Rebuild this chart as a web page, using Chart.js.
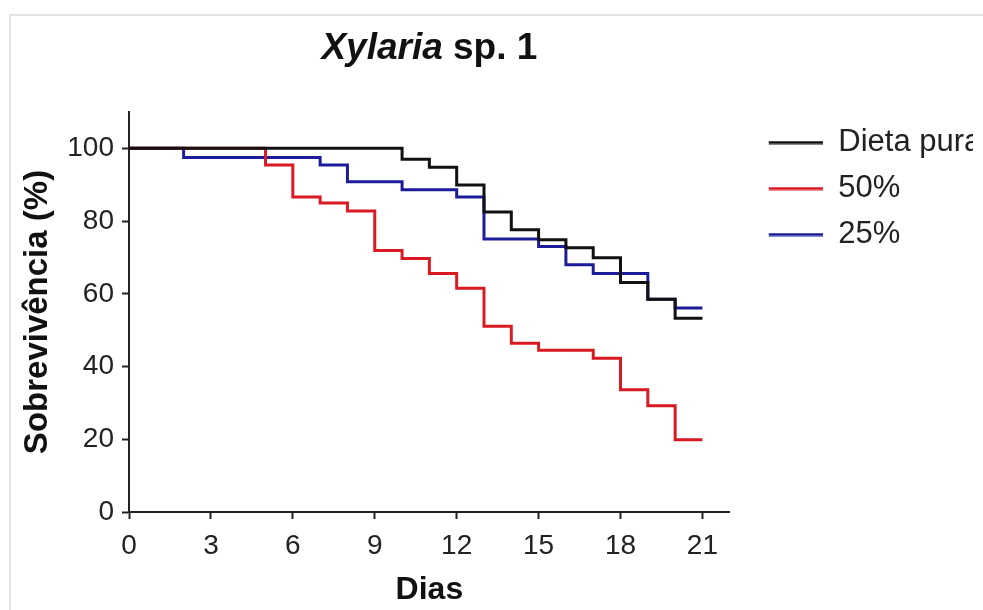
<!DOCTYPE html>
<html><head><meta charset="utf-8">
<script src="https://cdn.jsdelivr.net/npm/chart.js@4.4.1/dist/chart.umd.min.js"></script>
<style>
html,body{margin:0;padding:0;background:#fff;}
#wrap{position:relative;width:983px;height:610px;overflow:hidden;background:#fff;}
#frame{position:absolute;left:9px;top:14px;width:1200px;height:800px;border-top:2px solid #e4e4e4;border-left:2px solid #e4e4e4;}
canvas{position:absolute;left:0;top:0;}
</style></head><body>
<div id="wrap"><div id="frame"></div><canvas id="c" width="983" height="610"></canvas></div>
<script>
// ---- text ----
const titleItalic = 'Xylaria';
const titleRest = ' sp. 1';
const xAxisTitle = 'Dias';
const yAxisTitle = 'Sobrevivência (%)';
const seriesNames = ['Dieta pura', '50%', '25%'];
const seriesColors = ['#111111', '#d81a22', '#1c1c9a'];
// ---- ticks ----
const xTicks = [0, 3, 6, 9, 12, 15, 18, 21];
const yTicks = [0, 20, 40, 60, 80, 100];
// ---- data (day of event, survival % after it) ----
const dietaDays = [0, 10, 11, 12, 13, 14, 15, 16, 17, 18, 19, 20, 21];
const dietaSurv = [100, 97, 94.8, 89.9, 82.5, 77.6, 74.9, 72.7, 69.9, 63.1, 58.5, 53.3, 53.3];
const c50Days = [0, 5, 6, 7, 8, 9, 10, 11, 12, 13, 14, 15, 17, 18, 19, 20, 21];
const c50Surv = [100, 95.4, 86.6, 85, 82.8, 71.9, 69.7, 65.6, 61.5, 51.1, 46.4, 44.5, 42.3, 33.6, 29.2, 19.9, 19.9];
const c25Days = [0, 2, 7, 8, 10, 12, 13, 15, 16, 17, 19, 20, 21];
const c25Surv = [100, 97.5, 95.4, 90.8, 88.6, 86.6, 75.1, 73.0, 68.0, 65.6, 58.5, 56.1, 56.1];

const FAM = '"Liberation Sans", Arial, sans-serif';
const toPts = (xs, ys) => xs.map((x, i) => ({x: x, y: ys[i]}));

function legendLine(color) {
  const cv = document.createElement('canvas');
  cv.width = 78; cv.height = 4;
  const g = cv.getContext('2d');
  g.fillStyle = color;
  g.fillRect(24, 0.5, 54, 3);
  return cv;
}
const legendSyms = seriesColors.map(legendLine);

const titlePlugin = {
  id: 'mixedTitle',
  afterDraw(chart) {
    const {ctx, chartArea} = chart;
    ctx.save();
    const f1 = 'italic bold 37px ' + FAM;
    const f2 = 'bold 37px ' + FAM;
    ctx.font = f1; const w1 = ctx.measureText(titleItalic).width;
    ctx.font = f2; const w2 = ctx.measureText(titleRest).width;
    const cx = (chartArea.left + chartArea.right) / 2;
    const x = cx - (w1 + w2) / 2;
    const y = 59;
    ctx.fillStyle = '#111';
    ctx.textBaseline = 'alphabetic';
    ctx.textAlign = 'left';
    ctx.font = f1; ctx.fillText(titleItalic, x, y);
    ctx.font = f2; ctx.fillText(titleRest, x + w1, y);
    ctx.restore();
  }
};

const mk = (i, xs, ys) => ({
  label: seriesNames[i],
  data: toPts(xs, ys),
  borderColor: seriesColors[i],
  backgroundColor: seriesColors[i],
  borderWidth: 3,
  pointRadius: 0,
  stepped: true,
  fill: false
});

new Chart(document.getElementById('c'), {
  type: 'line',
  data: {
    datasets: [mk(0, dietaDays, dietaSurv), mk(1, c50Days, c50Surv), mk(2, c25Days, c25Surv)]
  },
  plugins: [titlePlugin],
  options: {
    responsive: false,
    animation: false,
    devicePixelRatio: 1,
    layout: {padding: {top: 112, right: 10, bottom: 0, left: 0}},
    plugins: {
      tooltip: {enabled: false},
      title: {display: false},
      legend: {
        position: 'right',
        align: 'start',
        labels: {
          usePointStyle: true,
          pointStyleWidth: 78,
          padding: 15,
          color: '#222',
          font: {family: FAM, size: 31},
          generateLabels(chart) {
            return chart.data.datasets.map((ds, i) => ({
              text: ds.label,
              pointStyle: legendSyms[i],
              fillStyle: ds.borderColor,
              strokeStyle: ds.borderColor,
              lineWidth: 0,
              hidden: false,
              datasetIndex: i,
              fontColor: '#222'
            }));
          }
        }
      }
    },
    scales: {
      x: {
        type: 'linear',
        min: 0, max: 22,
        afterBuildTicks(scale) { scale.ticks = xTicks.map(v => ({value: v})); },
        afterFit(scale) { scale.height = 98; },
        grid: {drawOnChartArea: false, drawTicks: true, tickLength: 7, tickWidth: 2, tickColor: '#222', color: '#222'},
        border: {display: true, color: '#222', width: 2},
        ticks: {color: '#222', font: {family: FAM, size: 28}, padding: 10, maxRotation: 0, autoSkip: false},
        title: {display: true, text: xAxisTitle, color: '#111', font: {family: FAM, size: 32, weight: 'bold'}, padding: {top: 0, bottom: 1}}
      },
      y: {
        type: 'linear',
        min: 0, max: 110,
        afterBuildTicks(scale) { scale.ticks = yTicks.map(v => ({value: v})); },
        afterFit(scale) { scale.width = 129; },
        grid: {drawOnChartArea: false, drawTicks: true, tickLength: 7, tickWidth: 2, tickColor: '#222', color: '#222'},
        border: {display: true, color: '#222', width: 2},
        ticks: {color: '#222', font: {family: FAM, size: 28}, padding: 8},
        title: {display: true, text: yAxisTitle, color: '#111', font: {family: FAM, size: 33, weight: 'bold'}, padding: {top: 18, bottom: 0}}
      }
    }
  }
});
</script>
</body></html>
